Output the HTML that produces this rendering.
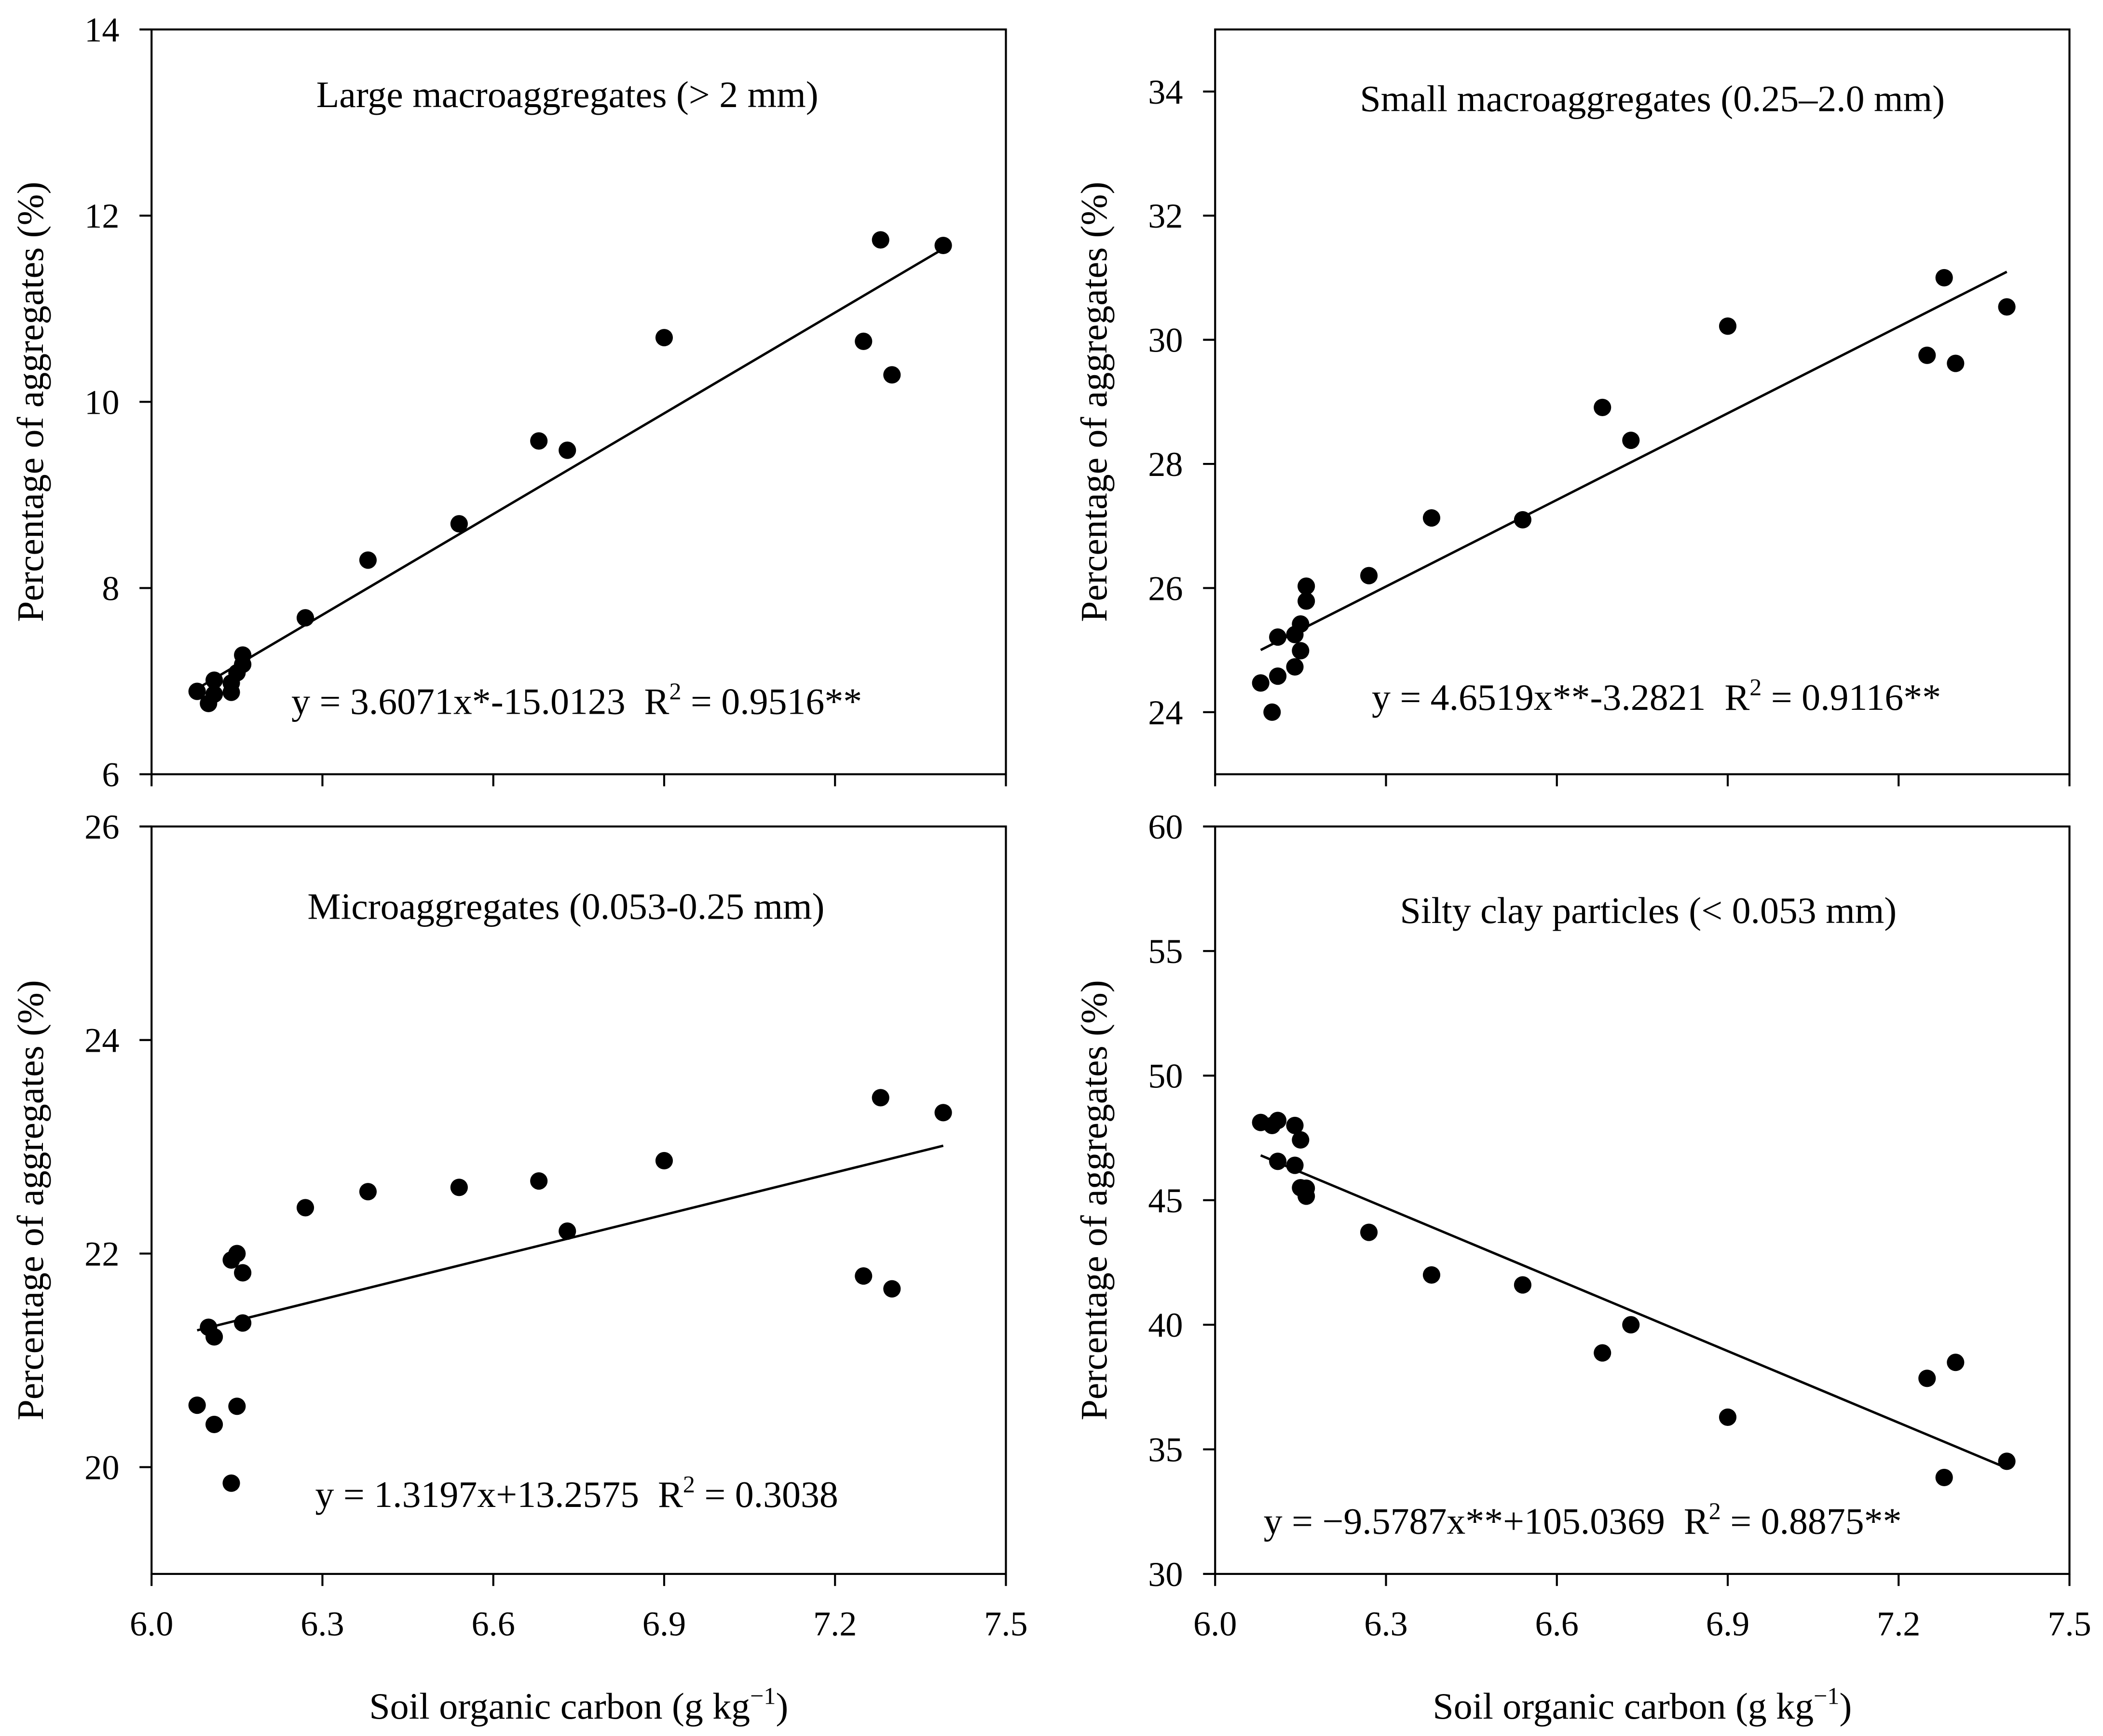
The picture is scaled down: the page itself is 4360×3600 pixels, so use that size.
<!DOCTYPE html>
<html><head><meta charset="utf-8"><style>
html,body{margin:0;padding:0;background:#fff}
svg{display:block}
text{font-family:"Liberation Serif",serif;fill:#000;white-space:pre}
</style></head><body>
<svg id="chart" width="4360" height="3600" viewBox="0 0 1568 1296" preserveAspectRatio="none" xmlns="http://www.w3.org/2000/svg"></svg>
<script>
const xTicks = [6.0, 6.3, 6.6, 6.9, 7.2, 7.5];
const xTickLabels = ["6.0", "6.3", "6.6", "6.9", "7.2", "7.5"];
const socLeft = [6.08,6.10,6.11,6.11,6.14,6.14,6.15,6.16,6.16,6.27,6.38,6.54,6.68,6.73,6.90,7.25,7.28,7.30,7.39];
const largeMacro = [6.89,6.76,7.01,6.86,6.88,6.98,7.09,7.18,7.28,7.68,8.30,8.69,9.58,9.48,10.69,10.65,11.74,10.29,11.68];
const soc20 = [6.08,6.10,6.11,6.11,6.14,6.14,6.15,6.15,6.16,6.16,6.27,6.38,6.54,6.68,6.73,6.90,7.25,7.28,7.30,7.39];
const smallMacro = [24.47,24.0,24.58,25.21,24.73,25.25,24.99,25.42,26.03,25.79,26.2,27.13,27.1,28.91,28.38,30.22,29.75,31.0,29.62,30.53];
const microAgg = [20.58,21.31,21.22,20.40,19.85,21.94,22.0,20.57,21.82,21.35,22.43,22.58,22.62,22.68,22.21,22.87,21.79,23.46,21.67,23.32];
const socMicro = [6.08,6.10,6.11,6.11,6.14,6.14,6.15,6.15,6.16,6.16,6.27,6.38,6.54,6.68,6.73,6.90,7.25,7.28,7.30,7.39];
const siltClay = [48.12,48.0,48.2,46.56,48.0,46.4,47.42,45.5,45.48,45.16,43.71,42.0,41.6,38.87,40.0,36.29,37.85,33.87,38.49,34.52];
const yTicks1 = [6,8,10,12,14];
const yTicks2 = [24,26,28,30,32,34];
const yTicks3 = [20,22,24,26];
const yTicks4 = [30,35,40,45,50,55,60];
const fits = [[3.6071,-15.0123],[4.6519,-3.2821],[1.3197,13.2575],[-9.5787,105.0369]];

const svg = document.getElementById('chart');
const NS = 'http://www.w3.org/2000/svg';
function mk(tag, attrs, parent){const e=document.createElementNS(NS,tag);for(const k in attrs)e.setAttribute(k,attrs[k]);(parent||svg).appendChild(e);return e;}

const panels = [
 {name:'large-macroaggregates', x0:113,x1:750,y0:22,y1:578,ymin:6,ymax:14,yt:yTicks1,xs:socLeft,ys:largeMacro,fit:fits[0],
  title:'Large macroaggregates (> 2 mm)',tx:423,ty:80,eq:['y = 3.6071x*-15.0123  R','2',' = 0.9516**'],ex:430,ey:533,xl:false},
 {name:'small-macroaggregates', x0:906,x1:1543,y0:22,y1:578,ymin:23,ymax:35,yt:yTicks2,xs:soc20,ys:smallMacro,fit:fits[1],
  title:'Small macroaggregates (0.25–2.0 mm)',tx:1232,ty:83,eq:['y = 4.6519x**-3.2821  R','2',' = 0.9116**'],ex:1235,ey:530,xl:false},
 {name:'microaggregates', x0:113,x1:750,y0:617,y1:1175,ymin:19,ymax:26,yt:yTicks3,xs:socMicro,ys:microAgg,fit:fits[2],
  title:'Microaggregates (0.053-0.25 mm)',tx:422,ty:686,eq:['y = 1.3197x+13.2575  R','2',' = 0.3038'],ex:430,ey:1125,xl:true},
 {name:'silty-clay-particles', x0:906,x1:1543,y0:617,y1:1175,ymin:30,ymax:60,yt:yTicks4,xs:soc20,ys:siltClay,fit:fits[3],
  title:'Silty clay particles (< 0.053 mm)',tx:1229,ty:689,eq:['y = −9.5787x**+105.0369  R','2',' = 0.8875**'],ex:1180,ey:1145,xl:true}
];

panels.forEach(p=>{
  const g = mk('g',{});
  
  
  const X = v => p.x0 + (v-6.0)/(7.5-6.0)*(p.x1-p.x0);
  const Y = v => p.y1 - (v-p.ymin)/(p.ymax-p.ymin)*(p.y1-p.y0);
  const box = mk('rect',{x:p.x0,y:p.y0,width:p.x1-p.x0,height:p.y1-p.y0,fill:'none',stroke:'#000','stroke-width':1.5},g);
  
  
  p.yt.forEach(t=>{
    mk('line',{x1:p.x0-9,x2:p.x0,y1:Y(t),y2:Y(t),stroke:'#000','stroke-width':1.5},g);
    const lb = mk('text',{x:p.x0-24,y:Y(t)+9,'text-anchor':'end','font-size':26},g);
    lb.textContent = t;
    
    
  });
  xTicks.forEach((t,i)=>{
    mk('line',{x1:X(t),x2:X(t),y1:p.y1,y2:p.y1+9,stroke:'#000','stroke-width':1.5},g);
    if(p.xl){
      const lb = mk('text',{x:X(t),y:p.y1+46,'text-anchor':'middle','font-size':26},g);
      lb.textContent = xTickLabels[i];
      
      
    }
  });
  const yl = mk('text',{x:0,y:0,'text-anchor':'middle','font-size':28,transform:`translate(${p.x0-81},${(p.y0+p.y1)/2}) rotate(-90)`},g);
  yl.textContent = 'Percentage of aggregates (%)';
  
  
  if(p.xl){
    const xl = mk('text',{x:(p.x0+p.x1)/2,y:1283,'text-anchor':'middle','font-size':28},g);
    xl.innerHTML = 'Soil organic carbon (g kg<tspan dy="-11" font-size="18">−1</tspan><tspan dy="11">)</tspan>';
    
    
  }
  const xmin = Math.min(...p.xs), xmax = Math.max(...p.xs);
  const fl = mk('line',{x1:X(xmin),y1:Y(p.fit[0]*xmin+p.fit[1]),x2:X(xmax),y2:Y(p.fit[0]*xmax+p.fit[1]),stroke:'#000','stroke-width':1.8},g);
  
  
  p.xs.forEach((v,i)=>{
    const c = mk('circle',{cx:X(v),cy:Y(p.ys[i]),r:6.5,fill:'#000'},g);
    
    
  });
  const tt = mk('text',{x:p.tx,y:p.ty,'text-anchor':'middle','font-size':28},g);
  tt.textContent = p.title;
  
  
  const eq = mk('text',{x:p.ex,y:p.ey,'text-anchor':'middle','font-size':28},g);
  eq.innerHTML = p.eq[0]+'<tspan dy="-11" font-size="18">'+p.eq[1]+'</tspan><tspan dy="11">'+p.eq[2]+'</tspan>';
  
  
});
</script>
</body></html>
